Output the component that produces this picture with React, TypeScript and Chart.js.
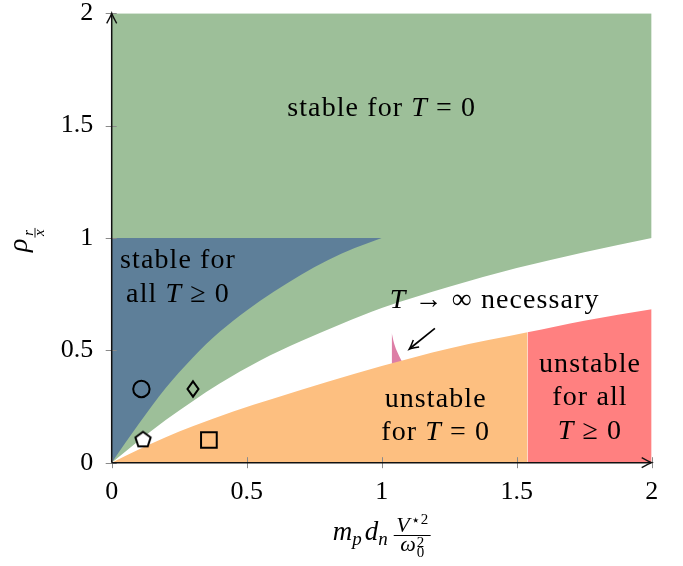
import React, { useEffect, useRef } from 'react';
import { Chart, registerables } from 'chart.js';

Chart.register(...registerables);

// ---- axis ticks ----
const xTicks = [0, 0.5, 1, 1.5, 2];
const xTickLabels = ['0', '0.5', '1', '1.5', '2'];
const yTicks = [0, 0.5, 1, 1.5, 2];
const yTickLabels = ['0', '0.5', '1', '1.5', '2'];

// ---- region boundaries ----
// stable for all T >= 0 (blue): region between this curve and rho = 1
const blueX = [0, 0.05, 0.1, 0.15, 0.2, 0.3, 0.4, 0.5, 0.6, 0.7, 0.8, 0.9, 1.0];
const blueY = [0, 0.0875, 0.1725, 0.255, 0.3325, 0.4675, 0.5825, 0.6775, 0.7605, 0.8355, 0.9005, 0.955, 1.0];
const blueTop = 1;

// stable for T = 0 (green): region above this curve
const greenX = [0, 0.1, 0.2, 0.3, 0.4, 0.55, 0.7, 0.85, 1.0, 1.25, 1.5, 1.75, 2.0];
const greenY = [0, 0.098, 0.19, 0.274, 0.352, 0.455, 0.54, 0.617, 0.688, 0.783, 0.866, 0.937, 1.0];

// unstable for T = 0 (orange): region below this curve
const orangeX = [0, 0.1, 0.2, 0.3, 0.45, 0.6, 0.8, 1.0, 1.25, 1.54];
const orangeY = [0, 0.059, 0.113, 0.162, 0.228, 0.286, 0.36, 0.43, 0.508, 0.58];

// unstable for all T >= 0 (red)
const redX = [1.54, 1.75, 2.0];
const redY = [0.58, 0.632, 0.683];

// T -> infinity necessary (pink sliver)
const pinkX = [1.037, 1.045, 1.055, 1.065, 1.08];
const pinkY = [0.578, 0.535, 0.5, 0.474, 0.44];

// ---- markers ----
const markerX = [0.11, 0.301, 0.116, 0.36];
const markerY = [0.328, 0.328, 0.104, 0.101];
const markerKinds = ['circle', 'diamond', 'pentagon', 'square'];

// ---- region labels (data coordinates of first-line baseline centre) ----
const labelTexts = [
  ['stable for $T$ = 0'],
  ['stable for', 'all $T$ ≥ 0'],
  ['$T$ → ∞ necessary'],
  ['unstable', 'for $T$ = 0'],
  ['unstable', 'for all', '$T$ ≥ 0'],
];
const labelX = [1.0, 0.2456, 1.4185, 1.2, 1.7715];
const labelY = [1.543, 0.865, 0.687, 0.249, 0.405];

// ---- pointer arrow ----
const arrowFrom = [1.197, 0.598];
const arrowTo = [1.102, 0.505];

const GREEN = '#9dbf99';
const BLUE = '#5e7f99';
const ORANGE = '#fdbf80';
const RED = '#ff8080';
const PINK = '#dd7ea6';
const FONT = '"Liberation Serif", "DejaVu Serif", serif';

const pts = (xs: number[], ys: number[]) => xs.map((x, i) => ({ x, y: ys[i] }));

function segs(str: string) {
  return str
    .split('$')
    .map((t, i) => ({ t, it: i % 2 === 1 }))
    .filter((s) => s.t.length > 0);
}

function drawRich(ctx: CanvasRenderingContext2D, str: string, cx: number, by: number, size: number) {
  const ss = segs(str);
  let total = 0;
  const ws = ss.map((s) => {
    ctx.font = `${s.it ? 'italic ' : ''}${size}px ${FONT}`;
    const w = ctx.measureText(s.t).width;
    total += w;
    return w;
  });
  let x = cx - total / 2;
  ss.forEach((s, i) => {
    ctx.font = `${s.it ? 'italic ' : ''}${size}px ${FONT}`;
    ctx.fillText(s.t, x, by);
    x += ws[i];
  });
}

function arrowHead(ctx: CanvasRenderingContext2D, tx: number, ty: number, ang: number, len = 10, half = 5) {
  ctx.save();
  ctx.translate(tx, ty);
  ctx.rotate(ang);
  ctx.beginPath();
  ctx.moveTo(-len, -half);
  ctx.quadraticCurveTo(-len * 0.3, -half * 0.2, 0, 0);
  ctx.quadraticCurveTo(-len * 0.3, half * 0.2, -len, half);
  ctx.stroke();
  ctx.restore();
}

function makeMarker(kind: string): any {
  if (kind === 'pentagon') {
    const c = document.createElement('canvas');
    c.width = 22;
    c.height = 22;
    const g = c.getContext('2d')!;
    g.translate(11, 11.5);
    g.beginPath();
    for (let k = 0; k < 5; k++) {
      const a = -Math.PI / 2 + (k * 2 * Math.PI) / 5;
      const px = 8 * Math.cos(a);
      const py = 8 * Math.sin(a);
      if (k === 0) g.moveTo(px, py);
      else g.lineTo(px, py);
    }
    g.closePath();
    g.fillStyle = '#fff';
    g.fill();
    g.lineWidth = 2;
    g.lineJoin = 'miter';
    g.strokeStyle = '#000';
    g.stroke();
    return c;
  }
  if (kind === 'diamond') {
    const c = document.createElement('canvas');
    c.width = 16;
    c.height = 22;
    const g = c.getContext('2d')!;
    g.beginPath();
    g.moveTo(8, 3.3);
    g.lineTo(13.5, 11);
    g.lineTo(8, 18.7);
    g.lineTo(2.5, 11);
    g.closePath();
    g.lineWidth = 2;
    g.strokeStyle = '#000';
    g.stroke();
    return c;
  }
  if (kind === 'square') return 'rect';
  return 'circle';
}

const overlay = {
  id: 'overlay',
  afterDatasetsDraw(chart: any) {
    const { ctx } = chart;
    const xs = chart.scales.x;
    const ys = chart.scales.y;
    const x0 = xs.getPixelForValue(0);
    const y0 = ys.getPixelForValue(0);
    const x2 = xs.getPixelForValue(2);
    const y2 = ys.getPixelForValue(2);
    ctx.save();

    // tick marks crossing the axes
    ctx.strokeStyle = '#8a8a8a';
    ctx.lineWidth = 1;
    ctx.beginPath();
    xTicks.forEach((v) => {
      const p = Math.round(xs.getPixelForValue(v)) + 0.5;
      ctx.moveTo(p, y0 - 5.5);
      ctx.lineTo(p, y0 + 5.5);
    });
    yTicks.forEach((v) => {
      const p = Math.round(ys.getPixelForValue(v)) + 0.5;
      ctx.moveTo(x0 - 6, p);
      ctx.lineTo(x0 + 5, p);
    });
    ctx.stroke();

    // axis lines with arrows
    ctx.strokeStyle = '#111';
    ctx.lineWidth = 1.5;
    ctx.beginPath();
    ctx.moveTo(x0, y0);
    ctx.lineTo(x2 - 1, y0);
    ctx.moveTo(x0, y0);
    ctx.lineTo(x0, y2 + 1);
    ctx.stroke();
    ctx.lineWidth = 1.4;
    arrowHead(ctx, x2, y0, 0);
    arrowHead(ctx, x0, y2, -Math.PI / 2);

    // pointer arrow
    const ax1 = xs.getPixelForValue(arrowFrom[0]);
    const ay1 = ys.getPixelForValue(arrowFrom[1]);
    const ax2 = xs.getPixelForValue(arrowTo[0]);
    const ay2 = ys.getPixelForValue(arrowTo[1]);
    ctx.strokeStyle = '#000';
    ctx.lineWidth = 1.7;
    ctx.beginPath();
    ctx.moveTo(ax1, ay1);
    ctx.lineTo(ax2 + 1, ay2 - 1);
    ctx.stroke();
    ctx.lineWidth = 1.5;
    arrowHead(ctx, ax2, ay2, Math.atan2(ay2 - ay1, ax2 - ax1), 9, 4.6);

    // region labels
    ctx.fillStyle = '#000';
    ctx.textAlign = 'left';
    ctx.textBaseline = 'alphabetic';
    (ctx as any).letterSpacing = '1.1px';
    labelTexts.forEach((lines, i) => {
      const cx = xs.getPixelForValue(labelX[i]);
      const by = ys.getPixelForValue(labelY[i]);
      lines.forEach((ln, j) => drawRich(ctx, ln, cx, by + j * 33.6, 28));
    });
    (ctx as any).letterSpacing = '0px';

    // x-axis title: m_p d_n V*^2 / omega_0^2
    {
      const cx = (x0 + x2) / 2;
      const base = 540;
      const it = (s: number) => `italic ${s}px ${FONT}`;
      const rm = (s: number) => `${s}px ${FONT}`;
      ctx.font = it(27);
      const wm = ctx.measureText('m').width;
      const wd = ctx.measureText('d').width;
      ctx.font = it(19);
      const wp = ctx.measureText('p').width;
      const wn = ctx.measureText('n').width;
      ctx.font = it(22);
      const wV = ctx.measureText('V').width;
      const wW = ctx.measureText('ω').width;
      ctx.font = rm(15);
      const wStar = ctx.measureText('⋆').width;
      const w2 = ctx.measureText('2').width;
      const numW = wV + 1 + wStar + 1 + w2;
      const denW = wW + 1 + w2;
      const fracW = Math.max(numW, denW) + 5;
      const total = wm + wp + 3 + wd + wn + 6 + fracW;
      let x = cx - total / 2;
      ctx.font = it(27);
      ctx.fillText('m', x, base);
      x += wm;
      ctx.font = it(19);
      ctx.fillText('p', x, base + 5);
      x += wp + 3;
      ctx.font = it(27);
      ctx.fillText('d', x, base);
      x += wd;
      ctx.font = it(19);
      ctx.fillText('n', x, base + 5);
      x += wn + 6;
      // fraction
      const barY = 535.5;
      ctx.strokeStyle = '#000';
      ctx.lineWidth = 1;
      ctx.beginPath();
      ctx.moveTo(x, barY);
      ctx.lineTo(x + fracW, barY);
      ctx.stroke();
      let nx = x + (fracW - numW) / 2;
      ctx.font = it(22);
      ctx.fillText('V', nx, barY - 4);
      nx += wV + 1;
      ctx.font = rm(15);
      ctx.fillText('⋆', nx, barY - 11);
      nx += wStar + 1;
      ctx.fillText('2', nx, barY - 12);
      let dx = x + (fracW - denW) / 2;
      ctx.font = it(22);
      ctx.fillText('ω', dx, barY + 15);
      dx += wW + 1;
      ctx.font = rm(15);
      ctx.fillText('2', dx, barY + 11);
      ctx.fillText('0', dx, barY + 21);
    }

    // y-axis title: rho_{r/x}
    {
      const cy = (y0 + y2) / 2 + 2;
      ctx.save();
      ctx.translate(27, cy);
      ctx.rotate(-Math.PI / 2);
      ctx.font = `italic 28px ${FONT}`;
      const wr = ctx.measureText('ρ').width;
      ctx.font = `italic 15px ${FONT}`;
      const wa = ctx.measureText('r').width;
      const wb = ctx.measureText('x').width;
      const fw = Math.max(wa, wb) + 3;
      const tot = wr + 1 + fw;
      let lx = -tot / 2;
      ctx.font = `italic 28px ${FONT}`;
      ctx.fillText('ρ', lx, 0);
      lx += wr + 1;
      ctx.font = `italic 15px ${FONT}`;
      ctx.fillText('r', lx + (fw - wa) / 2, 6);
      ctx.fillText('x', lx + (fw - wb) / 2, 17);
      ctx.strokeStyle = '#000';
      ctx.lineWidth = 0.9;
      ctx.beginPath();
      ctx.moveTo(lx, 8);
      ctx.lineTo(lx + fw, 8);
      ctx.stroke();
      ctx.restore();
    }

    ctx.restore();
  },
};

export default function App() {
  const ref = useRef<HTMLCanvasElement>(null);

  useEffect(() => {
    const canvas = ref.current;
    if (!canvas) return;
    const markerStyles = markerKinds.map(makeMarker);
    const markerRadii = markerKinds.map((k) => (k === 'square' ? 11.1 : k === 'circle' ? 8.2 : 9));
    const area = (xs: number[], ys: number[], color: string, fill: any) => ({
      data: pts(xs, ys),
      backgroundColor: color,
      borderColor: 'rgba(0,0,0,0)',
      borderWidth: 0,
      pointRadius: 0,
      pointHoverRadius: 0,
      cubicInterpolationMode: 'monotone' as const,
      fill,
    });
    const noPad = (s: any) => {
      s.paddingLeft = 0;
      s.paddingRight = 0;
      s.paddingTop = 0;
      s.paddingBottom = 0;
    };
    const chart = new Chart(canvas, {
      type: 'line',
      data: {
        datasets: [
          {
            data: pts(markerX, markerY),
            showLine: false,
            pointStyle: markerStyles,
            pointRadius: markerRadii,
            pointHoverRadius: markerRadii,
            pointBorderColor: '#000',
            pointBackgroundColor: 'rgba(0,0,0,0)',
            pointBorderWidth: 2,
            borderColor: 'rgba(0,0,0,0)',
            backgroundColor: 'rgba(0,0,0,0)',
            fill: false,
          } as any,
          area(blueX, blueY, BLUE, { value: blueTop }),
          area(orangeX, orangeY, ORANGE, 'origin'),
          area(redX, redY, RED, 'origin'),
          area(pinkX, pinkY, PINK, 'origin'),
          area(greenX, greenY, GREEN, 'end'),
        ],
      },
      options: {
        animation: false,
        responsive: false,
        devicePixelRatio: 1,
        layout: { padding: { left: 0, right: 31.3, top: 13.3, bottom: 0 } },
        plugins: { legend: { display: false }, tooltip: { enabled: false } },
        events: [],
        scales: {
          x: {
            type: 'linear',
            min: 0,
            max: 2,
            afterBuildTicks: (s: any) => {
              s.ticks = xTicks.map((v) => ({ value: v }));
            },
            ticks: {
              callback: (v: any) => xTickLabels[xTicks.indexOf(Number(v))] ?? '',
              font: { family: FONT, size: 26, lineHeight: 1 },
              color: '#000',
              padding: 16.8,
              maxRotation: 0,
              autoSkip: false,
            },
            grid: { display: false, drawTicks: false },
            border: { display: false },
            afterFit: (s: any) => {
              s.height = 103.3;
              noPad(s);
            },
          },
          y: {
            type: 'linear',
            min: 0,
            max: 2,
            afterBuildTicks: (s: any) => {
              s.ticks = yTicks.map((v) => ({ value: v }));
            },
            ticks: {
              callback: (v: any) => yTickLabels[yTicks.indexOf(Number(v))] ?? '',
              font: { family: FONT, size: 26, lineHeight: 1 },
              color: '#000',
              padding: 18.4,
              autoSkip: false,
            },
            grid: { display: false, drawTicks: false },
            border: { display: false },
            afterFit: (s: any) => {
              s.width = 111.7;
              noPad(s);
            },
          },
        },
      } as any,
      plugins: [overlay],
    });
    return () => chart.destroy();
  }, []);

  return (
    <div style={{ position: 'absolute', left: 0, top: 0, width: 683, height: 566, background: '#fff' }}>
      <canvas ref={ref} width={683} height={566} style={{ display: 'block', width: 683, height: 566 }} />
    </div>
  );
}
